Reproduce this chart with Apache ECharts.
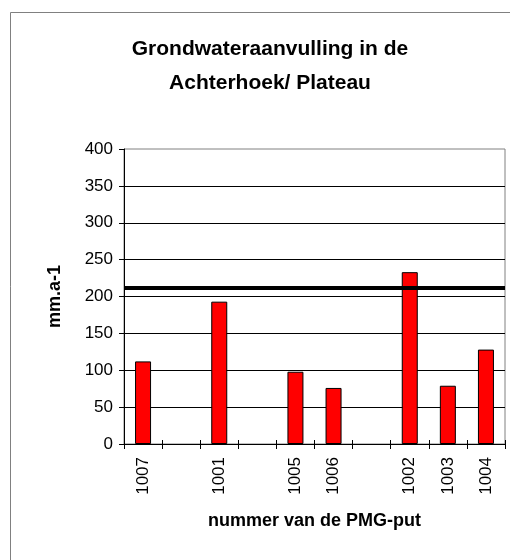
<!DOCTYPE html>
<html>
<head>
<meta charset="utf-8">
<script src="https://cdn.jsdelivr.net/npm/echarts@6/dist/echarts.min.js"></script>
<style>
html,body{margin:0;padding:0;background:#fff;}
#chart{width:510px;height:560px;}
</style>
</head>
<body>
<div id="chart"></div>
<script>
const categories = ['1007', '', '1001', '', '1005', '1006', '', '1002', '1003', '1004'];
const recharge = [112, null, 193, null, 98, 76, null, 233, 79, 128];
const referenceLevel = [212];
const yTicks = { min: 0, max: 400, interval: 50 };

const font = 'Arial, "Liberation Sans", sans-serif';
const chart = echarts.init(document.getElementById('chart'), null, { renderer: 'canvas' });
chart.setOption({
  animation: false,
  backgroundColor: '#ffffff',
  graphic: [{
    type: 'rect', silent: true, z: -1,
    shape: { x: 10.5, y: 12.5, width: 600, height: 600 },
    style: { fill: 'none', stroke: '#808080', lineWidth: 1 }
  }],
  title: {
    text: 'Grondwateraanvulling in de\nAchterhoek/ Plateau',
    left: 265, top: 27, textAlign: 'center',
    textStyle: { fontFamily: font, fontSize: 21, fontWeight: 'bold', color: '#000', lineHeight: 34 }
  },
  grid: { left: 124, right: 5, top: 149, bottom: 116, show: true, borderColor: '#808080', borderWidth: 1, containLabel: false },
  xAxis: [{
    type: 'category', data: categories, boundaryGap: true,
    name: 'nummer van de PMG-put', nameLocation: 'middle', nameGap: 68,
    nameTextStyle: { fontFamily: font, fontSize: 18, fontWeight: 'bold', color: '#000' },
    axisLine: { lineStyle: { color: '#000', width: 1 } },
    axisTick: { show: true, alignWithLabel: false, length: 5, lineStyle: { color: '#000' }, interval: 0 },
    axisLabel: { rotate: 90, interval: 0, margin: 13, fontFamily: font, fontSize: 17, color: '#000' },
    splitLine: { show: false }
  }, {
    type: 'category', data: categories, position: 'bottom', boundaryGap: true,
    axisLine: { show: false },
    axisTick: { show: true, inside: true, length: 4, interval: 0, lineStyle: { color: '#000' } },
    axisLabel: { show: false }, splitLine: { show: false }
  }],
  yAxis: {
    type: 'value', min: yTicks.min, max: yTicks.max, interval: yTicks.interval,
    name: 'mm.a-1', nameLocation: 'middle', nameGap: 60, nameRotate: 90,
    nameTextStyle: { fontFamily: font, fontSize: 18, fontWeight: 'bold', color: '#000' },
    axisLine: { show: true, lineStyle: { color: '#000', width: 1 } },
    axisTick: { show: true, length: 5, lineStyle: { color: '#000' } },
    axisLabel: { margin: 11, fontFamily: font, fontSize: 17, color: '#000' },
    splitLine: { show: true, showMaxLine: false, lineStyle: { color: '#000', width: 1 } }
  },
  series: [{
    type: 'bar', data: recharge, barWidth: 16, xAxisIndex: 0,
    itemStyle: { color: '#ff0000', borderColor: '#000', borderWidth: 1 },
    markLine: {
      silent: true, symbol: ['none', 'none'], label: { show: false },
      lineStyle: { color: '#000', width: 4, type: 'solid' },
      data: referenceLevel.map(v => ({ yAxis: v }))
    }
  }]
});
</script>
</body>
</html>
